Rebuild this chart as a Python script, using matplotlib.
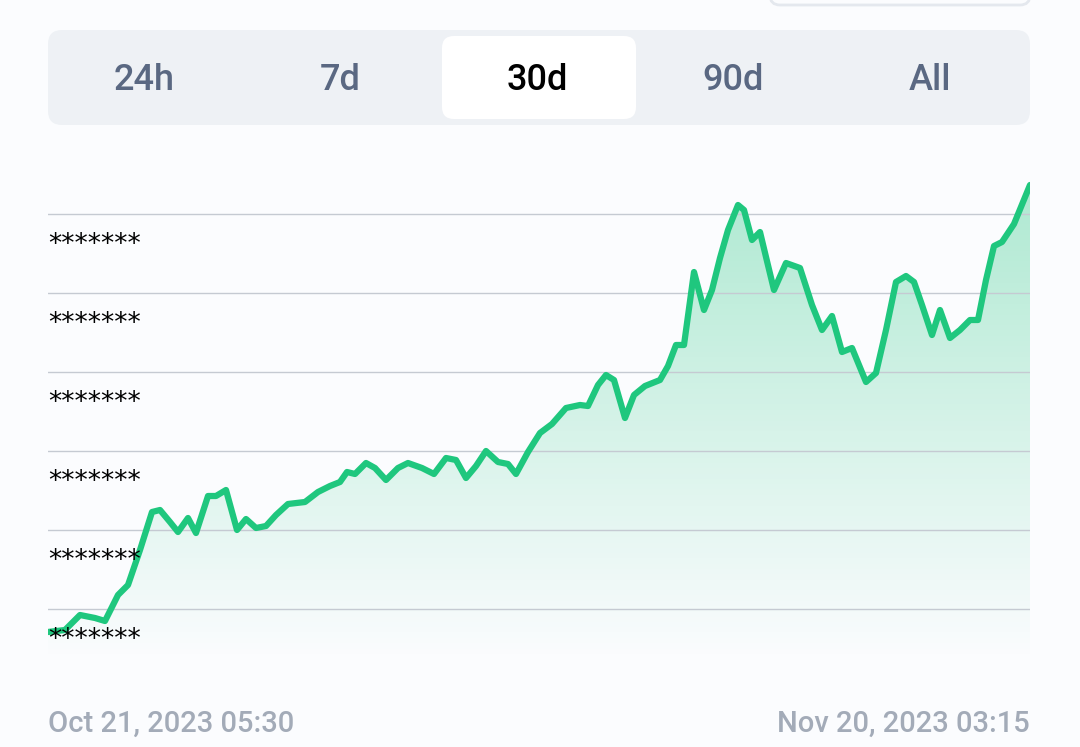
import numpy as np
import matplotlib
matplotlib.use("Agg")
import matplotlib.pyplot as plt
from matplotlib.patches import FancyBboxPatch
from matplotlib.colors import LinearSegmentedColormap

tabs = ["24h", "7d", "30d", "90d", "All"]
selected = "30d"
start_label = "Oct 21, 2023 05:30"
end_label = "Nov 20, 2023 03:15"
ytick_labels = ["*******"] * 6
px = [48,65,80,95,105,118,128,140,152,160,170,178,188,196,208,216,226,237,246,256,266,276,288,305,318,330,340,347,355,366,375,386,398,408,422,434,446,456,466,476,486,498,508,516,528,540,552,566,580,588,598,606,614,625,634,645,660,668,676,684,694,704,712,720,728,738,744,752,760,766,774,786,800,812,822,832,842,852,866,876,886,896,906,914,922,932,940,950,960,970,978,986,994,1002,1014,1030]
py = [632,630,615,618,621,595,585,550,512,510,522,532,518,533,496,496,490,530,519,528,526,515,504,502,492,486,482,472,474,463,468,480,468,463,468,474,458,460,478,466,451,462,464,474,452,433,424,408,405,406,385,375,380,418,395,386,380,366,345,345,272,310,290,258,230,205,210,240,232,257,290,263,268,305,330,316,352,348,382,373,330,282,276,282,305,335,310,338,330,320,320,280,246,242,224,185]
values = [(609 - v) / 79 + 1 for v in py]
times = [(p - 48) / 982 * 30 for p in px]

W, H = 1080, 747
fig = plt.figure(figsize=(W/100, H/100), dpi=100)
fig.patch.set_facecolor("#fbfcfe")

def fx(x): return x / W
def fy(y): return 1 - y / H

bg = fig.add_axes([0, 0, 1, 1]); bg.set_xlim(0, W); bg.set_ylim(H, 0); bg.axis("off")
bg.add_patch(FancyBboxPatch((48, 30), 982, 95, boxstyle="round,pad=0,rounding_size=14", fc="#eef1f5", ec="none"))
bg.add_patch(FancyBboxPatch((442, 36), 194, 83, boxstyle="round,pad=0,rounding_size=12", fc="white", ec="none"))
bg.add_patch(FancyBboxPatch((770, -20), 260, 25, boxstyle="round,pad=0,rounding_size=10", fc="#fbfcfe", ec="#e4e8ee", lw=2))
for i, t in enumerate(tabs):
    cx = 48 + 982 / 5 * (i + 0.5) - 2
    bg.text(cx, 80, t, ha="center", va="center", fontsize=26, family="Roboto", weight="medium",
            color="black" if t == selected else "#5a6882")
bg.text(48, 724, start_label, ha="left", va="center", fontsize=21, color="#a3abb8", family="Roboto", weight="medium")
bg.text(1030, 724, end_label, ha="right", va="center", fontsize=21, color="#a3abb8", family="Roboto", weight="medium")

ax = fig.add_axes([fx(48), fy(660), fx(982), (660 - 175) / H])
ax.set_xlim(0, 30)
ax.set_ylim((609 - 660) / 79 + 1, (609 - 175) / 79 + 1)
ax.axis("off")
for g in range(1, 7):
    ax.axhline(g, color="#c5cad2", lw=1, zorder=1)
    ax.text(0, g - 31 / 79, ytick_labels[g - 1], ha="left", va="center", fontsize=19, color="black", zorder=5)
ymin = ax.get_ylim()[0]
ymax = max(values)
grad = np.linspace(0, 1, 256).reshape(-1, 1)
cmap = LinearSegmentedColormap.from_list("g", [(0.13, 0.78, 0.5, 0.0), (0.13, 0.78, 0.5, 0.35)])
im = ax.imshow(grad, extent=[0, 30, ymin, ymax], origin="lower", aspect="auto", cmap=cmap, zorder=0)
poly = ax.fill_between(times, values, ymin, color="none")
im.set_clip_path(poly.get_paths()[0], transform=ax.transData)
ax.plot(times, values, color="#1fc77e", lw=4.5, solid_joinstyle="round", solid_capstyle="round", zorder=3)

fig.savefig("out.png", dpi=100, facecolor=fig.get_facecolor())
